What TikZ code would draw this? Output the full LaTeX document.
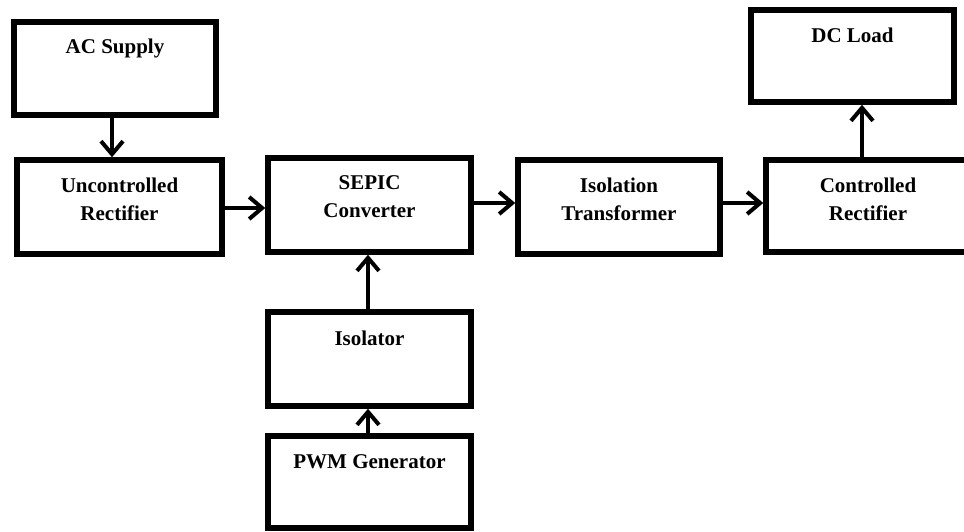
\documentclass[tikz,border=0pt]{standalone}
\usepackage{fontspec}
\setmainfont{Liberation Serif}
\usetikzlibrary{arrows.meta}
\begin{document}
\begin{tikzpicture}[x=1pt,y=-1pt,
  box/.style={draw=black,line width=5.5pt,fill=white,inner sep=0pt},
  txt/.style={font=\fontsize{21}{28}\selectfont\bfseries,align=center,inner sep=0pt},
  arr/.style={line width=4pt,-{Straight Barb[length=13pt,width=22pt]}}]
\fill[white] (0,0) rectangle (964,531);
\useasboundingbox (0,0) rectangle (964,531);
% boxes
\node[box,minimum width=202pt,minimum height=93pt] (ac) at (115,68.5) {};
\node[box,minimum width=205pt,minimum height=94pt] (ur) at (119.5,207) {};
\node[box,minimum width=203pt,minimum height=94pt] (sepic) at (369.5,205) {};
\node[box,minimum width=202pt,minimum height=94pt] (it) at (619,207) {};
\node[box,minimum width=204pt,minimum height=92pt] (cr) at (868,206) {};
\node[box,minimum width=203pt,minimum height=92pt] (dc) at (852.5,56) {};
\node[box,minimum width=203pt,minimum height=94pt] (iso) at (369.5,359) {};
\node[box,minimum width=203pt,minimum height=92pt] (pwm) at (369.5,482) {};
% texts
\node[txt] (tac) at (115,48) {AC Supply};
\node[txt] (tur) at (119.5,199) {Uncontrolled\\Rectifier};
\node[txt] (tsepic) at (369.5,197) {SEPIC\\Converter};
\node[txt] (tit) at (619,199) {Isolation\\Transformer};
\node[txt] (tcr) at (868,199) {Controlled\\Rectifier};
\node[txt] (tdc) at (852.5,35) {DC Load};
\node[txt] (tiso) at (369.5,338) {Isolator};
\node[txt] (tpwm) at (369.5,462) {PWM Generator};
% arrows
\draw[arr] ([xshift=-3pt]ac.south) -- ([xshift=-3pt]ac.south |- ur.north);
\draw[arr] ([yshift=-1pt]ur.east) -- ([yshift=-1pt]ur.east -| sepic.west);
\draw[arr] ([yshift=2pt]sepic.east) -- ([yshift=2pt]sepic.east -| it.west);
\draw[arr] ([yshift=4pt]it.east) -- ([yshift=4pt]it.east -| cr.west);
\draw[arr] ([xshift=-6pt]cr.north) -- ([xshift=-6pt]cr.north |- dc.south);
\draw[arr] ([xshift=-1.5pt]iso.north) -- ([xshift=-1.5pt]iso.north |- sepic.south);
\draw[arr] ([xshift=-1.5pt]pwm.north) -- ([xshift=-1.5pt]pwm.north |- iso.south);
\end{tikzpicture}
\end{document}
